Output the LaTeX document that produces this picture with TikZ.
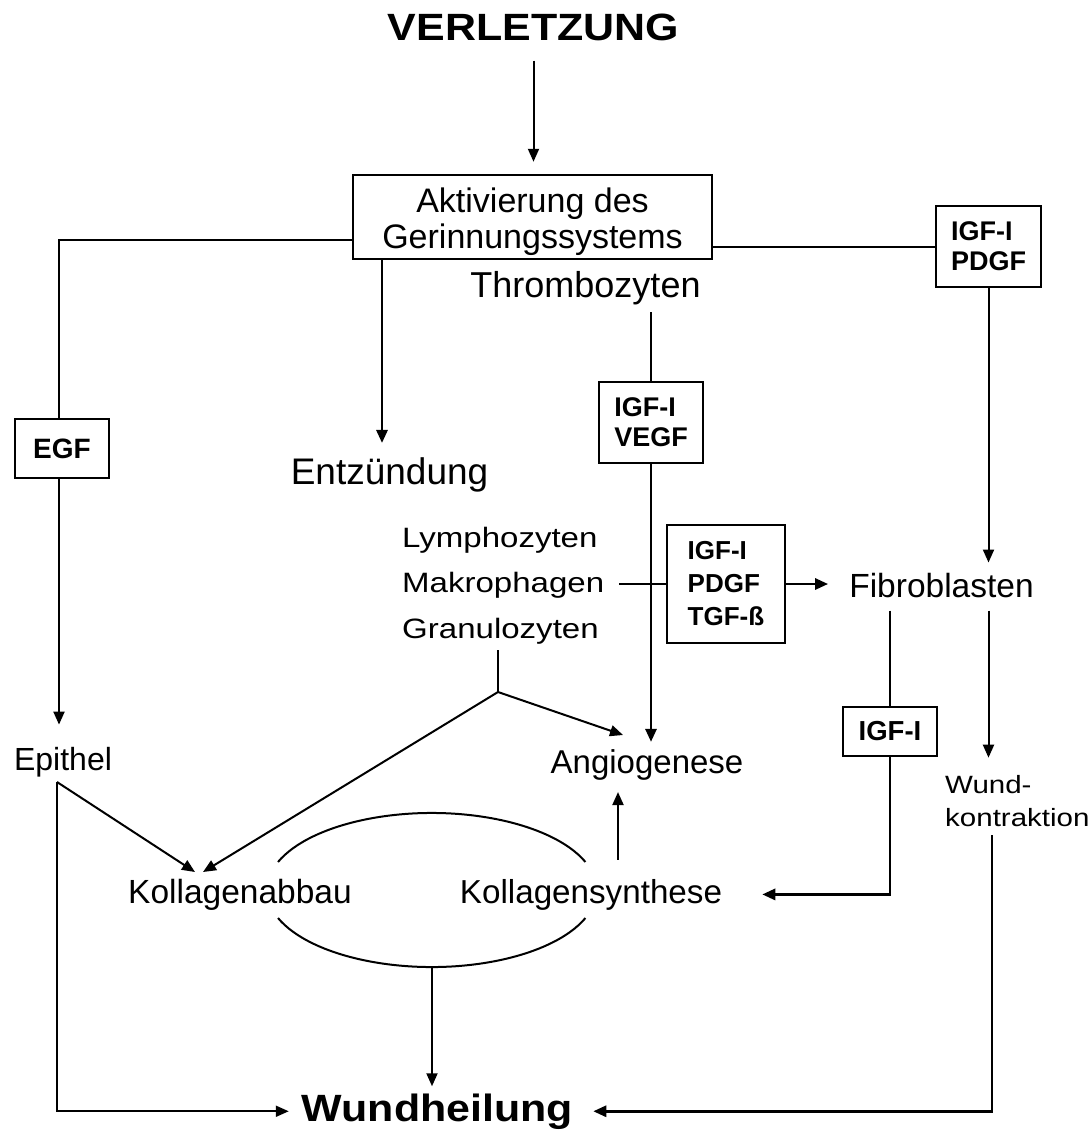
\documentclass[tikz,border=0pt]{standalone}
\usepackage{fontspec}
\setmainfont{Liberation Sans}
\newfontfamily\fW[FakeStretch=1.18]{Liberation Sans}
\newfontfamily\fB[FakeStretch=1.13]{Liberation Sans}
\usetikzlibrary{arrows.meta}
\begin{document}
\begin{tikzpicture}[x=1pt,y=-1pt,
  txt/.style={inner sep=0pt, anchor=base},
  fbox/.style={draw, line width=2.5pt, inner sep=0pt, align=left,
               font=\bfseries\fontsize{27}{30}\selectfont},
  ln/.style={line width=2pt},
  thk/.style={line width=2.8pt},
  arr/.style={-{Triangle[length=13pt,width=11pt]}},
]
\useasboundingbox (0,0) rectangle (1092,1130);
\fill[white] (0,0) rectangle (1092,1130);

% ---------- nodes ----------
\node[txt, font=\fB\bfseries\fontsize{38}{40}\selectfont] (verl) at (533.5,40) {VERLETZUNG};
\node[draw, line width=2.5pt, minimum width=359pt, minimum height=84pt, inner sep=0pt,
      align=center, font=\fontsize{34}{36}\selectfont] (act) at (532.5,217)
      {\rule{0pt}{35pt}Aktivierung des\\Gerinnungssystems};
\node[txt, font=\fontsize{36}{38}\selectfont] (thr) at (585.5,297) {Thrombozyten};
\node[txt, font=\fontsize{37}{40}\selectfont] (ent) at (389.5,484) {Entzündung};
\node[fbox, minimum width=94pt, minimum height=59pt,
      font=\bfseries\fontsize{28}{30}\selectfont] (egf) at (62,448.5) {EGF};
\node[fbox, minimum width=104pt, minimum height=81pt] (vegf) at (651,422.5) {IGF-I\\VEGF};
\node[fbox, minimum width=105pt, minimum height=81pt] (rpdgf) at (988.5,246.5) {IGF-I\\PDGF};
\node[fbox, minimum width=118pt, minimum height=118pt,
      font=\bfseries\fontsize{26}{33}\selectfont] (tgf) at (726,584) {IGF-I\\PDGF\\TGF-ß};
\node[fbox, minimum width=94pt, minimum height=49pt,
      font=\bfseries\fontsize{27.5}{30}\selectfont] (igf) at (890,731.5) {IGF-I};

\node[txt, anchor=base west, font=\fW\fontsize{28}{30}\selectfont] (lym) at (402,547) {Lymphozyten};
\node[txt, anchor=base west, font=\fW\fontsize{28}{30}\selectfont] (mak) at (402,592) {Makrophagen};
\node[txt, anchor=base west, font=\fW\fontsize{28}{30}\selectfont] (gra) at (402,638) {Granulozyten};
\node[txt, font=\fontsize{33.5}{36}\selectfont] (fib) at (941.5,597) {Fibroblasten};
\node[txt, font=\fontsize{33}{36}\selectfont] (ang) at (647,773) {Angiogenese};
\node[txt, font=\fontsize{33.5}{36}\selectfont] (kab) at (240,903) {Kollagenabbau};
\node[txt, font=\fontsize{33.2}{36}\selectfont] (ksy) at (591,903) {Kollagensynthese};
\node[txt, font=\fontsize{32}{36}\selectfont] (epi) at (63,770) {Epithel};
\node[txt, anchor=base west, font=\fW\fontsize{25}{30}\selectfont] (wk1) at (945,793) {Wund-};
\node[txt, anchor=base west, font=\fW\fontsize{25}{30}\selectfont] (wk2) at (945,826) {kontraktion};
\node[txt, font=\fB\bfseries\fontsize{38}{40}\selectfont] (wh) at (437.5,1121) {Wundheilung};

% ---------- helper coordinates ----------
\coordinate (L) at (59,240);
\coordinate (E) at (382,0);
\coordinate (J) at (498,692);
\coordinate (angL) at (623,735);
\coordinate (kabR) at (203,872);
\coordinate (kabL) at (195,872);
\coordinate (E0) at (57,782);
\coordinate (cyc) at (432,967);
\coordinate (K) at (618,0);
\coordinate (W0) at (992,0);

% ---------- connectors ----------
\draw[ln,arr,shorten <=20pt,shorten >=12pt] (verl.south) -- (act.north -| verl.south);

\draw[ln] (act.west |- L) -- (L) -- (L |- egf.north);
\draw[ln,arr,shorten >=22pt] (L |- egf.south) -- (L |- epi.north);

\draw[thk,arr,shorten >=14pt] (act.south -| E) -- (ent.north -| E);

\draw[ln] (act.east |- rpdgf.west) -- (rpdgf.west);
\draw[ln,arr,shorten >=10pt] (rpdgf.south) -- (fib.north -| rpdgf.south);

\draw[thk,shorten <=7.5pt] (thr.south -| vegf.north) -- (vegf.north);
\draw[thk,arr,shorten >=7pt] (vegf.south) -- (vegf.south |- ang.north);

\draw[ln] ([xshift=15pt]mak.east |- tgf.west) -- (tgf.west);
\draw[thk,arr,shorten >=21pt] (tgf.east) -- (fib.west |- tgf.east);

\draw[ln,shorten <=6pt] (gra.south -| J) -- (J);
\draw[ln,arr] (J) -- (angL);
\draw[ln,arr] (J) -- (kabR);

\draw[ln,arr] (E0) -- (kabL);
\draw[ln,arr,shorten >=13pt] (E0) |- (wh.west);

\draw[ln] (278,862) arc[start angle=158.7, end angle=21.3, x radius=165pt, y radius=77pt];
\draw[ln] (278,918) arc[start angle=201.3, end angle=338.7, x radius=165pt, y radius=77pt];
\draw[ln,arr,shorten >=7pt] (cyc) -- (cyc |- wh.north);

\draw[ln,arr,shorten <=19pt,shorten >=12pt] (ksy.north -| K) -- (ang.south -| K);

\draw[ln,shorten <=13pt] (fib.south -| igf.north) -- (igf.north);
\draw[thk,arr,shorten >=40pt] (igf.south) |- (ksy.east);

\draw[ln,arr,shorten <=13pt,shorten >=17pt] (fib.south -| rpdgf.south) -- (wk1.north -| rpdgf.south);

\draw[thk,arr,shorten <=9pt,shorten >=20pt] (wk2.south -| W0) |- (wh.east);
\end{tikzpicture}
\end{document}
